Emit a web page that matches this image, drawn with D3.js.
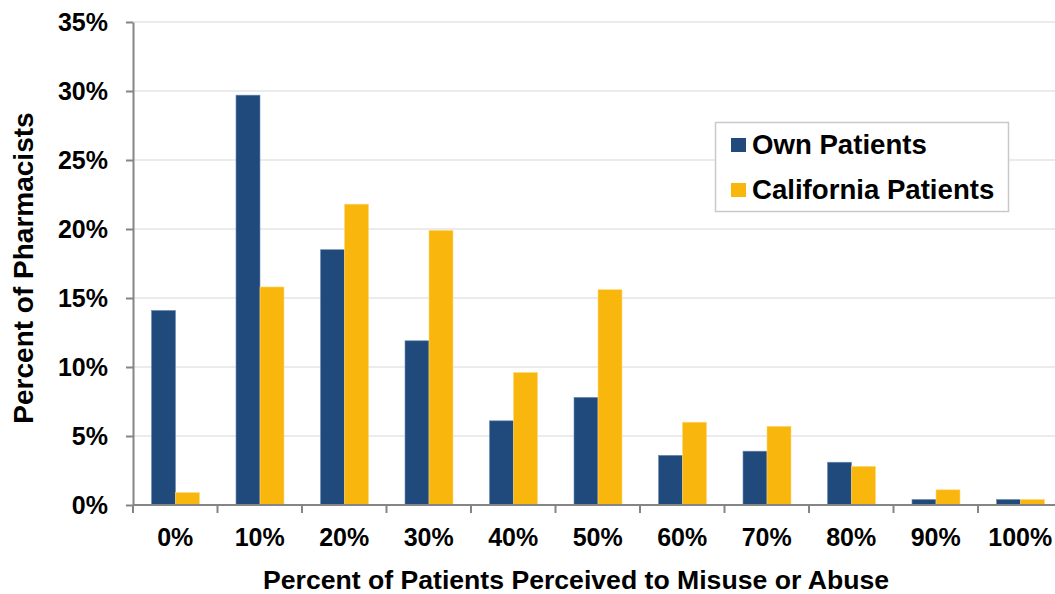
<!DOCTYPE html>
<html>
<head>
<meta charset="utf-8">
<script src="https://cdn.jsdelivr.net/npm/d3@7"></script>
<style>
  html, body { margin: 0; padding: 0; background: #fff; }
  svg { display: block; font-family: "Liberation Sans", Arial, Helvetica, sans-serif; font-weight: bold; }
</style>
</head>
<body>
<svg id="chart" width="1055" height="594"></svg>
<script>
// Share of pharmacists by perceived rate of patient misuse/abuse
const categories = ["0%", "10%", "20%", "30%", "40%", "50%", "60%", "70%", "80%", "90%", "100%"];
const seriesNames = ["Own Patients", "California Patients"];
const ownPatients = [14.1, 29.7, 18.5, 11.9, 6.1, 7.8, 3.6, 3.9, 3.1, 0.4, 0.4];
const californiaPatients = [0.9, 15.8, 21.8, 19.9, 9.6, 15.6, 6.0, 5.7, 2.8, 1.1, 0.4];
const yTicks = [0, 5, 10, 15, 20, 25, 30, 35];
const colors = ["#214A7C", "#F9B60D"];

const svg = d3.select("#chart");
const plotLeft = 133, bandW = 84.5, plotTop = 22, plotBottom = 505;

const x = d3.scaleBand()
  .domain(categories)
  .range([plotLeft, plotLeft + bandW * categories.length])
  .paddingInner(0).paddingOuter(0);

const xs = d3.scaleBand()
  .domain(seriesNames)
  .range([18.5, 66.5]);

const y = d3.scaleLinear().domain([0, 35]).range([plotBottom, plotTop]);

// horizontal gridlines
svg.append("g")
  .selectAll("line")
  .data(yTicks.filter(d => d > 0))
  .join("line")
  .attr("x1", plotLeft).attr("x2", 1055)
  .attr("y1", d => y(d)).attr("y2", d => y(d))
  .attr("stroke", "#e4e4e4").attr("stroke-width", 1.5);

// bars
const seriesData = [ownPatients, californiaPatients];
const groups = svg.append("g")
  .selectAll("g")
  .data(categories)
  .join("g")
  .attr("transform", d => `translate(${x(d)},0)`);

groups.selectAll("rect")
  .data((c, i) => seriesNames.map((s, j) => ({ s, j, v: seriesData[j][i] })))
  .join("rect")
  .attr("x", d => xs(d.s))
  .attr("width", xs.bandwidth())
  .attr("y", d => y(d.v))
  .attr("height", d => plotBottom - y(d.v))
  .attr("fill", d => colors[d.j])
  .attr("stroke", d => d.j === 0 ? "#6f8db3" : "#fcd978")
  .attr("stroke-width", 0.6);

// y axis
const yAxis = svg.append("g")
  .attr("transform", `translate(${plotLeft},0)`)
  .call(d3.axisLeft(y).tickValues(yTicks).tickFormat(d => d + "%").tickSizeInner(7).tickSizeOuter(0).tickPadding(18));
yAxis.select(".domain").attr("stroke", "#858585").attr("stroke-width", 2);
yAxis.selectAll(".tick line").attr("stroke", "#858585").attr("stroke-width", 2);
yAxis.selectAll(".tick text")
  .attr("fill", "#000").style("font-size", "25px").style("font-weight", "bold")
  .style("font-family", "'Liberation Sans', Arial, sans-serif");

// x axis: tick marks at category boundaries
const boundaries = d3.range(categories.length + 1).map(i => plotLeft + i * bandW);
const xAxisG = svg.append("g");
xAxisG.append("line")
  .attr("x1", plotLeft).attr("x2", 1055)
  .attr("y1", plotBottom).attr("y2", plotBottom)
  .attr("stroke", "#858585").attr("stroke-width", 2);
xAxisG.selectAll("line.tk")
  .data(boundaries)
  .join("line").attr("class", "tk")
  .attr("x1", d => d).attr("x2", d => d)
  .attr("y1", plotBottom).attr("y2", plotBottom + 8)
  .attr("stroke", "#858585").attr("stroke-width", 2);
xAxisG.selectAll("text")
  .data(categories)
  .join("text")
  .attr("x", d => x(d) + x.bandwidth() / 2)
  .attr("y", 546)
  .attr("text-anchor", "middle")
  .style("font-size", "25px")
  .attr("fill", "#000")
  .text(d => d);

// axis titles
svg.append("text")
  .attr("x", 576).attr("y", 589)
  .attr("text-anchor", "middle")
  .attr("textLength", 626)
  .attr("lengthAdjust", "spacingAndGlyphs")
  .style("font-size", "25.5px")
  .attr("fill", "#000")
  .text("Percent of Patients Perceived to Misuse or Abuse");

svg.append("text")
  .attr("transform", "translate(33,268) rotate(-90)")
  .attr("text-anchor", "middle")
  .style("font-size", "28px")
  .attr("fill", "#000")
  .text("Percent of Pharmacists");

// legend
const lg = svg.append("g");
lg.append("rect")
  .attr("x", 715.5).attr("y", 122.5).attr("width", 293).attr("height", 89)
  .attr("fill", "#fff").attr("stroke", "#c9c9c9").attr("stroke-width", 1.5);
const items = lg.selectAll("g.item")
  .data(seriesNames)
  .join("g").attr("class", "item")
  .attr("transform", (d, i) => `translate(0,${i * 45})`);
items.append("rect")
  .attr("x", 731).attr("y", 138).attr("width", 15).attr("height", 14)
  .attr("fill", (d, i) => colors[i]);
items.append("text")
  .attr("x", 752).attr("y", 153.5)
  .style("font-size", "27.6px")
  .attr("fill", "#000")
  .text(d => d);
</script>
</body>
</html>
